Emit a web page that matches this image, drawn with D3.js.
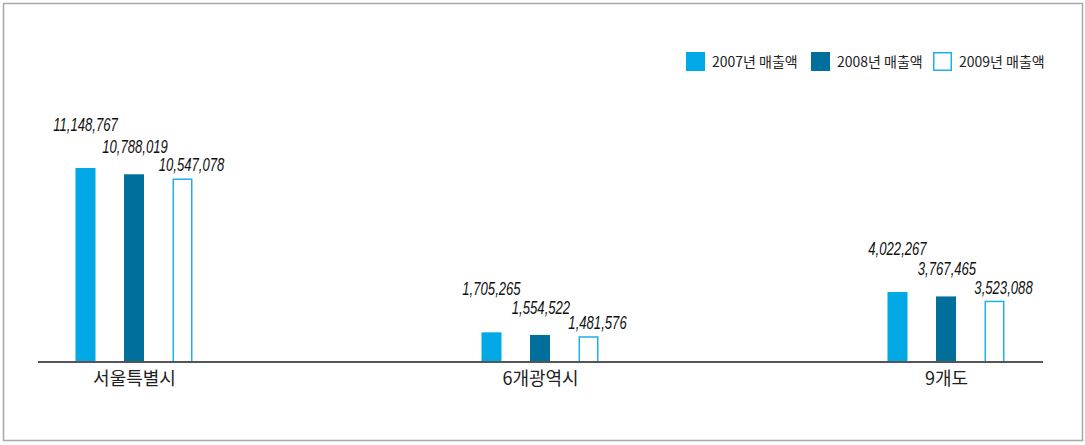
<!DOCTYPE html>
<html><head><meta charset="utf-8">
<script src="https://cdn.jsdelivr.net/npm/d3@7"></script>
<style>
html,body{margin:0;padding:0;background:#fff;}
svg{display:block;}
</style></head>
<body>
<svg id="chart" width="1085" height="445"></svg>
<script>
const categories = ["서울특별시", "6개광역시", "9개도"];
const seriesNames = ["2007년 매출액", "2008년 매출액", "2009년 매출액"];
const sales2007 = [11148767, 1705265, 4022267];
const sales2008 = [10788019, 1554522, 3767465];
const sales2009 = [10547078, 1481576, 3523088];
const seriesValues = [sales2007, sales2008, sales2009];

const fills = ["#00a9e6", "#006f9c", "#ffffff"];
const strokes = ["none", "none", "#1fb0ea"];
const labelDy = [-37, -21, -7];
const labelDx = [0, 1, 9];

const svg = d3.select("#chart");
svg.append("rect").attr("x", 3.5).attr("y", 3.5).attr("width", 1079).attr("height", 437)
  .attr("fill", "#fff").attr("stroke", "#a8a8a8").attr("stroke-width", 1.5);

const baseY = 362;
const y = d3.scaleLinear().domain([0, 11148767]).range([baseY, 168]);
const x = d3.scalePoint().domain(categories).range([134, 946]);
const xs = d3.scaleBand().domain(seriesNames).range([-68.5, 68.5]).paddingInner(0.588).paddingOuter(0.206);
const numFont = "'Liberation Sans','Arial',sans-serif";
const fmt = d3.format(",");

const data = [];
categories.forEach((c, i) => seriesNames.forEach((s, j) => data.push({c, s, j, v: seriesValues[j][i]})));

const g = svg.append("g");
g.selectAll("rect.bar").data(data).join("rect").attr("class", "bar")
  .attr("x", d => x(d.c) + xs(d.s) + (d.j === 2 ? 0.75 : 0))
  .attr("y", d => y(d.v) + (d.j === 2 ? 0.75 : 0))
  .attr("width", d => xs.bandwidth() - (d.j === 2 ? 1.5 : 0))
  .attr("height", d => baseY - y(d.v) - (d.j === 2 ? 0.75 : 0))
  .attr("fill", d => fills[d.j])
  .attr("stroke", d => strokes[d.j])
  .attr("stroke-width", 1.5);

g.selectAll("text.val").data(data).join("text").attr("class", "val")
  .attr("transform", d => `translate(${x(d.c) + xs(d.s) + xs.bandwidth() / 2 + labelDx[d.j]},${y(d.v) + labelDy[d.j]}) scale(0.75,1)`)
  .attr("text-anchor", "middle")
  .attr("font-family", numFont)
  .attr("font-style", "italic")
  .attr("font-size", 17.5)
  .attr("fill", "#111")
  .text(d => fmt(d.v));

// axis
const axisG = svg.append("g").attr("transform", `translate(0,${baseY})`);
const axis = d3.axisBottom(x).tickSize(0).tickPadding(10);
axisG.call(axis);
axisG.select(".domain").remove();
axisG.append("line").attr("x1", 38).attr("x2", 1043).attr("y1", 0).attr("y2", 0)
  .attr("stroke", "#555").attr("stroke-width", 2);
axisG.selectAll(".tick text")
  .attr("font-family", "'Noto Sans CJK KR',sans-serif")
  .attr("font-size", 18)
  .attr("fill", "#222");

// legend
const legX = [686, 811, 933];
const leg = svg.append("g");
seriesNames.forEach((s, j) => {
  const lg = leg.append("g").attr("transform", `translate(${legX[j]},52)`);
  lg.append("rect")
    .attr("x", j === 2 ? 0.75 : 0).attr("y", j === 2 ? 0.75 : 0)
    .attr("width", j === 2 ? 17.5 : 19).attr("height", j === 2 ? 17.5 : 19)
    .attr("fill", fills[j]).attr("stroke", strokes[j]).attr("stroke-width", 1.5);
  lg.append("text").attr("x", 26).attr("y", 15)
    .attr("font-family", "'Noto Sans CJK KR',sans-serif")
    .attr("font-size", 14).attr("fill", "#222").text(s);
});
</script>
</body></html>
